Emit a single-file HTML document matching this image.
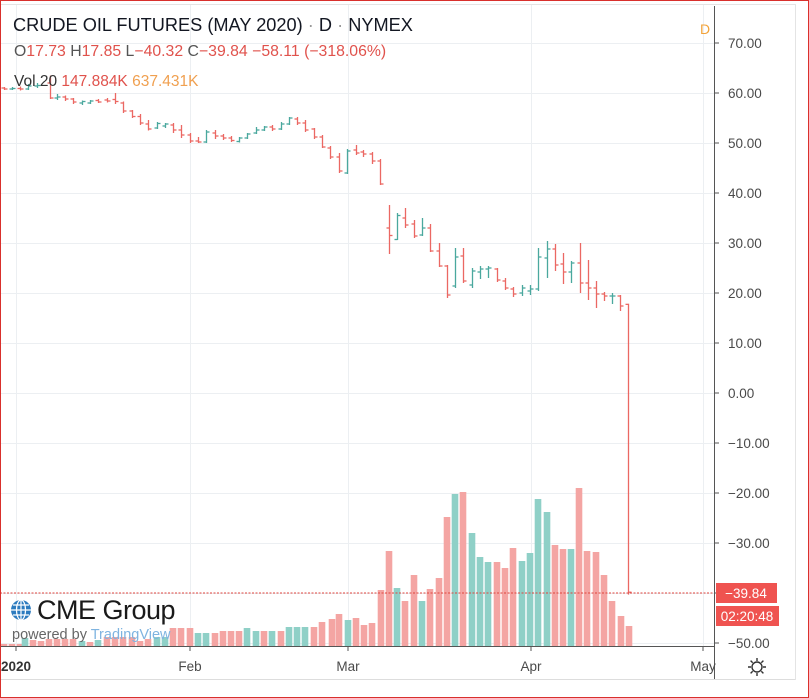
<!DOCTYPE html>
<html><head><meta charset="utf-8"><style>
html,body{margin:0;padding:0;background:#fff;}
body{width:809px;height:698px;overflow:hidden;font-family:"Liberation Sans",sans-serif;}
svg{display:block}
</style></head><body>
<svg id="s" width="809" height="698" xmlns="http://www.w3.org/2000/svg" font-family="Liberation Sans, sans-serif">
<rect x="0" y="0" width="809" height="698" fill="#fff"/>
<g id="grid" stroke="#eceff2" stroke-width="1"></g>
<g id="vol"></g>
<g id="px" stroke-width="1.3"></g>
<line x1="0" y1="593" x2="715" y2="593" stroke="#e0453e" stroke-width="1" stroke-dasharray="2,1.5"/>
<line x1="714.5" y1="6" x2="714.5" y2="680" stroke="#555"/>
<line x1="0" y1="646.5" x2="715" y2="646.5" stroke="#555"/>
<line x1="0" y1="679.5" x2="795" y2="679.5" stroke="#ddd"/>
<line x1="795.5" y1="4" x2="795.5" y2="680" stroke="#e4e4e4"/>
<line x1="0" y1="4.5" x2="795" y2="4.5" stroke="#e4e4e4"/>
<g id="ax" font-size="13.5" fill="#4a4a4a"></g>
<g font-size="13.5" fill="#4a4a4a" text-anchor="middle">
<text x="16" y="671" font-weight="bold" text-anchor="middle" fill="#333">2020</text>
<text x="190" y="671">Feb</text>
<text x="348" y="671">Mar</text>
<text x="531" y="671">Apr</text>
<text x="703" y="671">May</text>
</g>
<g stroke="#555"><line x1="16" y1="646" x2="16" y2="651"/><line x1="190" y1="646" x2="190" y2="651"/><line x1="348" y1="646" x2="348" y2="651"/><line x1="531" y1="646" x2="531" y2="651"/><line x1="703" y1="646" x2="703" y2="651"/></g>
<rect x="716" y="583" width="61" height="20" fill="#ef5350"/>
<text x="746" y="598" font-size="13.5" fill="#fff" text-anchor="middle">−39.84</text>
<rect x="716" y="606" width="63" height="20" fill="#ef5350"/>
<text x="747" y="621" font-size="13.5" fill="#fff" text-anchor="middle">02:20:48</text>
<g transform="translate(757,667)" fill="none" stroke="#333" stroke-width="1.4">
<circle r="5"/><path d="M0,-9V-6M0,6V9M-9,0H-6M6,0H9M-6.4,-6.4L-4.3,-4.3M4.3,4.3L6.4,6.4M-6.4,6.4L-4.3,4.3M4.3,-4.3L6.4,-6.4"/>
</g>
<text x="13" y="31" font-size="18.2" fill="#131722">CRUDE OIL FUTURES (MAY 2020) <tspan fill="#999">·</tspan> D <tspan fill="#999">·</tspan> NYMEX</text>
<text x="14" y="56" font-size="15.8" fill="#555">O<tspan fill="#e0524c">17.73</tspan>  H<tspan fill="#e0524c">17.85</tspan>  L<tspan fill="#e0524c">−40.32</tspan>  C<tspan fill="#e0524c">−39.84</tspan>  <tspan fill="#e0524c">−58.11 (−318.06%)</tspan></text>
<text x="14" y="86" font-size="15.5" fill="#333">Vol 20  <tspan fill="#e0524c">147.884K</tspan>  <tspan fill="#f0a050">637.431K</tspan></text>
<text x="700" y="34" font-size="14" fill="#f2a33a">D</text>
<g transform="translate(21,610)">
<circle r="10" fill="#2c7bbf"/><path d="M-10,0H10M0,-10V10M-8,-5H8M-8,5H8" stroke="#fff" stroke-width="1.2"/><ellipse rx="4.5" ry="10" fill="none" stroke="#fff" stroke-width="1.2"/>
</g>
<text x="37" y="619" font-size="27" fill="#1a1a1a" letter-spacing="-0.5">CME Group</text>
<text x="12" y="639" font-size="14.5" fill="#666">powered by <tspan fill="#7fb4e0">TradingView</tspan></text>
</svg>
<script>
var NS="http://www.w3.org/2000/svg";
function el(p,t,a){var e=document.createElementNS(NS,t);for(var k in a)e.setAttribute(k,a[k]);document.getElementById(p).appendChild(e);return e;}
function Y(v){return 43+(70-v)*5;}
for(var v=70;v>=-50;v-=10){var y=Y(v);el("grid","line",{x1:0,y1:y+.5,x2:715,y2:y+.5});
 el("ax","line",{x1:714,y1:y,x2:719,y2:y,stroke:"#555"});
 var t=el("ax","text",{x:728,y:y+5});t.textContent=(v<0?"−":"")+Math.abs(v).toFixed(2);}
[16,190,348,531,703].forEach(function(x){el("grid","line",{x1:x+.5,y1:5,x2:x+.5,y2:646});});
var vols=[[4,644,'r'],[12,644,'r'],[20,644,'r'],[25,638,'g'],[33,640,'r'],[41,641,'r'],[49,639,'r'],[57,639,'r'],[65,639,'r'],[73,639,'r'],[82,641,'g'],[90,642,'r'],[98,640,'g'],[107,637,'r'],[115,637,'r'],[123,637,'r'],[132,637,'r'],[140,641,'r'],[148,639,'r'],[157,637,'g'],[165,637,'g'],[173,628,'r'],[181,628,'r'],[190,628,'r'],[198,633,'g'],[206,633,'g'],[215,633,'r'],[223,631,'r'],[231,631,'r'],[239,631,'r'],[247,628,'g'],[256,631,'g'],[264,631,'r'],[272,631,'g'],[281,631,'r'],[289,627,'g'],[297,627,'g'],[305,627,'g'],[314,627,'r'],[322,622,'r'],
[332,619,'r'],[339,614,'r'],[348,620,'g'],[356,618,'r'],[364,625,'r'],[372,623,'r'],[381,590,'r'],[389,551,'r'],[397,588,'g'],[405,601,'r'],[414,575,'r'],[422,601,'g'],[430,589,'r'],[439,578,'r'],[447,517,'r'],[455,494,'g'],[463,492,'r'],[472,533,'g'],[480,557,'g'],[488,562,'g'],[497,562,'r'],[505,568,'r'],[513,548,'r'],[522,561,'g'],[530,553,'g'],[538,499,'g'],[547,512,'g'],[555,545,'r'],[563,549,'r'],[571,549,'g'],[579,488,'r'],[587,551,'r'],[596,552,'r'],[604,575,'r'],[612,601,'r'],[621,616,'r'],[629,626,'r']];
vols.forEach(function(b){el("vol","rect",{x:b[0]-3.3,y:b[1],width:6.6,height:646-b[1],fill:b[2]=='g'?'#8fd0c7':'#f4a5a3'});});
var px=[[4,61,61.2,60.6,60.8],[12,60.8,61.2,60.6,60.9],[20,60.9,61.3,60.5,60.8],[28,60.8,61.8,60.6,61.4],[37,61.4,62,61,61.5],
[50,62,63.5,58.8,59],[57,59,59.8,58.6,59.2],[65,59.2,59.5,58.4,58.8],[73,58.8,59,57.8,58.2],[82,58,58.5,57.6,58.3],[90,58,58.6,57.8,58.4],[98,58.5,58.8,58,58.2],[107,58.6,59,58.1,58.4],[115,58.7,60,57.8,58.3],[123,58,58.3,56,56.4],[132,56.4,56.6,55,55.3],[140,55.3,55.8,53.6,54],[148,53.8,54.6,52.5,52.8],[157,53,54.2,52.8,53.9],[165,53.4,54,53,53.8],[173,53.6,54,52,52.6],[181,52.6,53.6,51,51.6],[190,51.6,52,50,50.4],[198,50.4,51.2,50,50.2],[206,50.2,52.6,50,52.2],[215,52,52.6,50.8,51.4],[223,51.4,51.8,50.6,51],[231,51,51.4,50.2,50.5],[239,50.3,51.2,50.1,51],[247,51,52,50.8,51.8],[256,52,53.2,51.8,52.6],[264,52.6,53.4,52.4,53.2],[272,53.2,53.6,52.4,52.8],[281,52.8,54.2,52.6,53.8],[289,53.8,55.2,53.6,55],[297,54.8,55.2,53.6,54],[305,54,54.6,52.2,52.6],[314,52.8,53,50.8,51.2],[322,51.2,51.6,49,49.2],
[330,49,49.4,46.8,47.2],[339,47.2,48,44,44.4],[347,44,48.8,43.8,48.4],[356,48.6,49.6,47.6,48],[363,48.2,48.6,47.2,47.8],[372,47.8,48.2,45.8,46.4],[380,46.4,46.8,41.6,41.8],
[389,33,37.6,27.8,31.5],[397,30.7,36,30.6,35.5],[405,35,37,33,33.6],[414,33.8,34.6,31,31.4],[422,31.6,35,31.4,33],[430,33,33.8,28.2,28.4],[439,28.4,30,25.2,25.4],[447,25.4,25.6,19,19.6],[455,21.4,29,21,27.2],[463,27.4,29,22,22.4],[472,21.6,25,21,24.4],[480,24.2,25.4,22.8,24.8],[488,24.8,25.4,23,25],[497,24.8,25,22.2,22.6],[505,22.4,23,20.6,21],[513,20.8,21.2,19.2,19.8],[522,20,21.6,19.4,21],[530,20.4,21.6,19.6,20.8],[538,20.8,29,20.4,27.2],[547,27,30.4,23,28.8],[555,28.8,29.8,24.4,25.6],[563,25.8,28,21.8,24.2],[571,24.2,26.4,22,26],[580,26,30,20,22],[588,22,26.6,18.6,21],[596,21,22.4,17,19.8],[604,19.8,20.2,18.4,19.4],[612,19.4,20,17.8,19.4],[620,19.4,19.6,16.4,17.4],[628,17.73,17.85,-40.32,-39.84]];
px.forEach(function(b){var c=b[4]>=b[1]?'#4aa89e':'#eb6863';
 el("px","line",{x1:b[0]+.5,y1:Y(b[2]),x2:b[0]+.5,y2:Y(b[3]),stroke:c});
 el("px","line",{x1:b[0]-2.5,y1:Y(b[1]),x2:b[0]+.5,y2:Y(b[1]),stroke:c});
 el("px","line",{x1:b[0]+.5,y1:Y(b[4]),x2:b[0]+3.5,y2:Y(b[4]),stroke:c});});
</script>
<div style="position:absolute;left:0;top:0;width:807px;height:696px;border:1px solid #d9302c;pointer-events:none"></div>
</body></html>
